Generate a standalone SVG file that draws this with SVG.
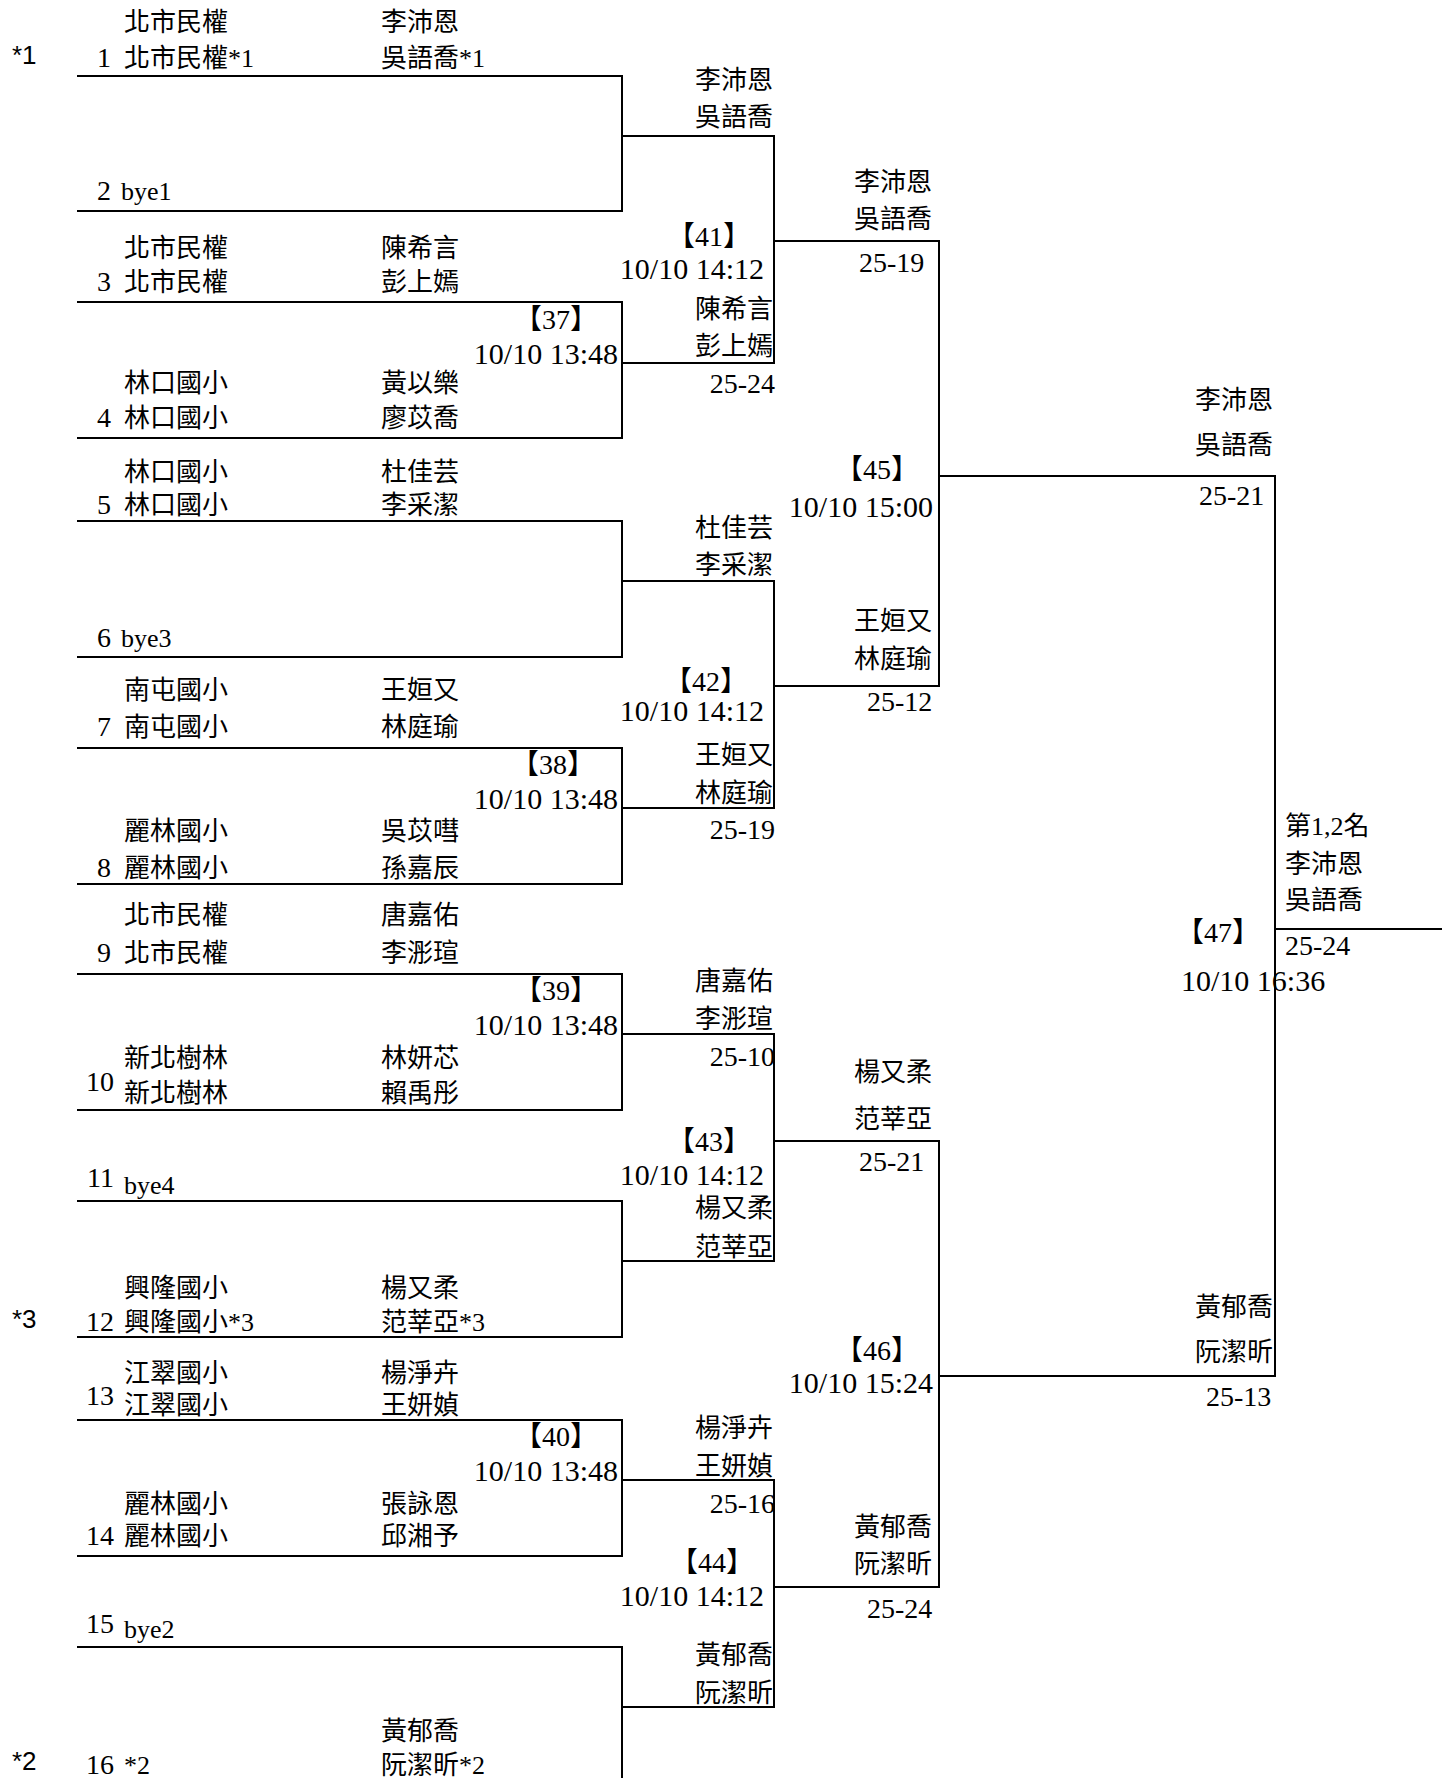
<svg xmlns="http://www.w3.org/2000/svg" width="1453" height="1778" viewBox="0 0 1453 1778">
<style>
text{font-family:"Liberation Serif","Noto Sans CJK TC",serif;font-size:26px;fill:#000}
.e{text-anchor:end}
.c{text-anchor:middle}
.d{font-size:28px}
.tm{font-size:30px}
.mk{font-family:"Liberation Sans",Arial,sans-serif;font-size:26px}
.ln{stroke:#000;stroke-width:2;fill:none}
</style>
<rect width="1453" height="1778" fill="#fff"/>
<g id="connectors" class="ln">
<path d="M77,76H622V211H77"/>
<path d="M77,302H622V438H77"/>
<path d="M77,521H622V657H77"/>
<path d="M77,748H622V884H77"/>
<path d="M77,974H622V1110H77"/>
<path d="M77,1201H622V1337H77"/>
<path d="M77,1420H622V1556H77"/>
<path d="M77,1647H622V1790H77"/>
<path d="M622,136H774V363H622"/>
<path d="M622,581H774V808H622"/>
<path d="M622,1034H774V1261H622"/>
<path d="M622,1480H774V1707H622"/>
<path d="M774,241H939V686H774"/>
<path d="M774,1141H939V1587H774"/>
<path d="M939,476H1275V1376H939"/>
<path d="M1275,929H1442"/>
</g>
<g id="marks">
<text class="mk" x="12" y="64">*1</text>
<text class="mk" x="12" y="1328">*3</text>
<text class="mk" x="12" y="1770">*2</text>
</g>
<g id="entry1"><text x="124" y="31">北市民權</text><text x="381" y="31">李沛恩</text><text class="e d" x="111" y="67">1</text><text x="124" y="67">北市民權*1</text><text x="381" y="67">吳語喬*1</text></g>
<g id="entry2"><text class="e d" x="111" y="200">2</text><text x="121" y="200">bye1</text></g>
<g id="entry3"><text x="124" y="257">北市民權</text><text x="381" y="257">陳希言</text><text class="e d" x="111" y="291">3</text><text x="124" y="291">北市民權</text><text x="381" y="291">彭上嫣</text></g>
<g id="entry4"><text x="124" y="392">林口國小</text><text x="381" y="392">黃以樂</text><text class="e d" x="111" y="427">4</text><text x="124" y="427">林口國小</text><text x="381" y="427">廖苡喬</text></g>
<g id="entry5"><text x="124" y="481">林口國小</text><text x="381" y="481">杜佳芸</text><text class="e d" x="111" y="514">5</text><text x="124" y="514">林口國小</text><text x="381" y="514">李采潔</text></g>
<g id="entry6"><text class="e d" x="111" y="647">6</text><text x="121" y="647">bye3</text></g>
<g id="entry7"><text x="124" y="699">南屯國小</text><text x="381" y="699">王姮又</text><text class="e d" x="111" y="736">7</text><text x="124" y="736">南屯國小</text><text x="381" y="736">林庭瑜</text></g>
<g id="entry8"><text x="124" y="840">麗林國小</text><text x="381" y="840">吳苡嘒</text><text class="e d" x="111" y="877">8</text><text x="124" y="877">麗林國小</text><text x="381" y="877">孫嘉辰</text></g>
<g id="entry9"><text x="124" y="924">北市民權</text><text x="381" y="924">唐嘉佑</text><text class="e d" x="111" y="962">9</text><text x="124" y="962">北市民權</text><text x="381" y="962">李浵瑄</text></g>
<g id="entry10"><text x="124" y="1067">新北樹林</text><text x="381" y="1067">林妍芯</text><text class="e d" x="114" y="1091">10</text><text x="124" y="1102">新北樹林</text><text x="381" y="1102">賴禹彤</text></g>
<g id="entry11"><text class="e d" x="114" y="1187">11</text><text x="124" y="1194">bye4</text></g>
<g id="entry12"><text x="124" y="1297">興隆國小</text><text x="381" y="1297">楊又柔</text><text class="e d" x="114" y="1331">12</text><text x="124" y="1331">興隆國小*3</text><text x="381" y="1331">范莘亞*3</text></g>
<g id="entry13"><text x="124" y="1382">江翠國小</text><text x="381" y="1382">楊淨卉</text><text class="e d" x="114" y="1405">13</text><text x="124" y="1414">江翠國小</text><text x="381" y="1414">王妍媜</text></g>
<g id="entry14"><text x="124" y="1513">麗林國小</text><text x="381" y="1513">張詠恩</text><text class="e d" x="114" y="1545">14</text><text x="124" y="1545">麗林國小</text><text x="381" y="1545">邱湘予</text></g>
<g id="entry15"><text class="e d" x="114" y="1633">15</text><text x="124" y="1638">bye2</text></g>
<g id="entry16"><text x="381" y="1740">黃郁喬</text><text class="e d" x="114" y="1774">16</text><text x="124" y="1774">*2</text><text x="381" y="1774">阮潔昕*2</text></g>
<g id="match37"><text class="c d" x="556" y="329">【37】</text><text class="e tm" x="618" y="364">10/10 13:48</text></g>
<g id="match38"><text class="c d" x="553" y="774">【38】</text><text class="e tm" x="618" y="809">10/10 13:48</text></g>
<g id="match39"><text class="c d" x="556" y="1000">【39】</text><text class="e tm" x="618" y="1035">10/10 13:48</text></g>
<g id="match40"><text class="c d" x="556" y="1446">【40】</text><text class="e tm" x="618" y="1481">10/10 13:48</text></g>
<g id="r1w1"><text class="e" x="773" y="89">李沛恩</text><text class="e" x="773" y="126">吳語喬</text></g>
<g id="r1w2"><text class="e" x="773" y="318">陳希言</text><text class="e" x="773" y="355">彭上嫣</text><text class="e d" x="775" y="393">25-24</text></g>
<g id="r1w3"><text class="e" x="773" y="537">杜佳芸</text><text class="e" x="773" y="574">李采潔</text></g>
<g id="r1w4"><text class="e" x="773" y="764">王姮又</text><text class="e" x="773" y="802">林庭瑜</text><text class="e d" x="775" y="839">25-19</text></g>
<g id="r1w5"><text class="e" x="773" y="990">唐嘉佑</text><text class="e" x="773" y="1028">李浵瑄</text><text class="e d" x="775" y="1066">25-10</text></g>
<g id="r1w6"><text class="e" x="773" y="1217">楊又柔</text><text class="e" x="773" y="1256">范莘亞</text></g>
<g id="r1w7"><text class="e" x="773" y="1437">楊淨卉</text><text class="e" x="773" y="1475">王妍媜</text><text class="e d" x="775" y="1513">25-16</text></g>
<g id="r1w8"><text class="e" x="773" y="1664">黃郁喬</text><text class="e" x="773" y="1702">阮潔昕</text></g>
<g id="match41"><text class="c d" x="709" y="246">【41】</text><text class="e tm" x="764" y="279">10/10 14:12</text></g>
<g id="match42"><text class="c d" x="706" y="691">【42】</text><text class="e tm" x="764" y="721">10/10 14:12</text></g>
<g id="match43"><text class="c d" x="709" y="1151">【43】</text><text class="e tm" x="764" y="1185">10/10 14:12</text></g>
<g id="match44"><text class="c d" x="712" y="1572">【44】</text><text class="e tm" x="764" y="1606">10/10 14:12</text></g>
<g id="r2w1"><text class="e" x="932" y="191">李沛恩</text><text class="e" x="932" y="228">吳語喬</text><text class="d" x="859" y="272">25-19</text></g>
<g id="r2w2"><text class="e" x="932" y="630">王姮又</text><text class="e" x="932" y="668">林庭瑜</text><text class="d" x="867" y="711">25-12</text></g>
<g id="r2w3"><text class="e" x="932" y="1081">楊又柔</text><text class="e" x="932" y="1128">范莘亞</text><text class="d" x="859" y="1171">25-21</text></g>
<g id="r2w4"><text class="e" x="932" y="1536">黃郁喬</text><text class="e" x="932" y="1573">阮潔昕</text><text class="d" x="867" y="1618">25-24</text></g>
<g id="match45"><text class="c d" x="877" y="479">【45】</text><text class="e tm" x="933" y="517">10/10 15:00</text></g>
<g id="match46"><text class="c d" x="877" y="1360">【46】</text><text class="e tm" x="933" y="1393">10/10 15:24</text></g>
<g id="r3w1"><text class="e" x="1273" y="409">李沛恩</text><text class="e" x="1273" y="454">吳語喬</text><text class="d" x="1199" y="505">25-21</text></g>
<g id="r3w2"><text class="e" x="1273" y="1316">黃郁喬</text><text class="e" x="1273" y="1361">阮潔昕</text><text class="d" x="1206" y="1406">25-13</text></g>
<g id="match47"><text class="c d" x="1218" y="942">【47】</text><text class="tm" x="1181" y="991">10/10 16:36</text></g>
<g id="champion"><text x="1285" y="835">第1,2名</text><text x="1285" y="873">李沛恩</text><text x="1285" y="909">吳語喬</text><text class="d" x="1285" y="955">25-24</text></g>
</svg>
